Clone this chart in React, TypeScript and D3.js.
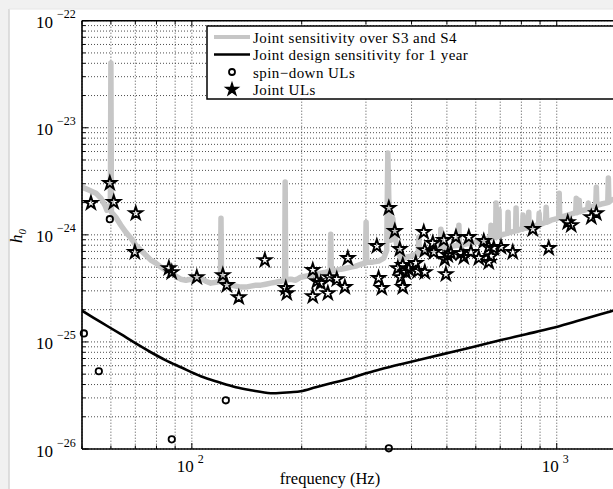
import React from 'react';
import * as d3 from 'd3';

const W = 613;
const H = 489;

// axis ticks
const xMajorTicks = [100, 1000];
const xMajorExp = ['2', '3'];
const yMajorTicks = [1e-26, 1e-25, 1e-24, 1e-23, 1e-22];
const yMajorExp = ['\u221226', '\u221225', '\u221224', '\u221223', '\u221222'];

const legendLabels = [
  'Joint sensitivity over S3 and S4',
  'Joint design sensitivity for 1 year',
  'spin\u2212down ULs',
  'Joint ULs',
];

// Joint sensitivity over S3 and S4 (frequency Hz, h0)
const sensitivity: [number, number][] = [
  [50, 2.79e-24], [52.2, 2.62e-24], [54.6, 2.45e-24], [56.3, 2.2e-24], [57.8, 1.89e-24],
  [58.5, 1.7e-24], [59.3, 1.78e-24], [59.8, 1.89e-24], [60.0, 4.02e-23], [60.2, 1.63e-24],
  [61.9, 1.46e-24], [63.9, 1.23e-24], [65.9, 1.06e-24], [68.1, 9.31e-25], [70.2, 8.01e-25],
  [72.5, 7.19e-25], [74.8, 6.46e-25], [77.2, 5.8e-25], [79.7, 5.44e-25], [82.3, 4.99e-25],
  [84.9, 4.68e-25], [87.6, 4.39e-25], [90.4, 4.11e-25], [93.3, 3.85e-25], [96.3, 3.77e-25],
  [99.4, 3.85e-25], [102.6, 4.02e-25], [105.8, 3.94e-25], [109.2, 3.69e-25], [112.7, 3.54e-25],
  [116.3, 3.61e-25], [119.8, 3.69e-25], [120.2, 1.43e-24], [120.6, 3.69e-25], [124.7, 3.54e-25],
  [127.9, 3.39e-25], [132.0, 3.32e-25], [136.2, 3.25e-25], [140.6, 3.25e-25], [145.1, 3.32e-25],
  [149.7, 3.39e-25], [154.5, 3.39e-25], [159.4, 3.46e-25], [164.5, 3.54e-25], [169.8, 3.61e-25],
  [175.2, 3.69e-25], [179.6, 3.77e-25], [180.2, 3.11e-24], [180.8, 3.77e-25], [186.6, 3.85e-25],
  [192.6, 3.77e-25], [198.8, 4.02e-25], [205.1, 4.11e-25], [211.7, 4.2e-25], [218.5, 4.29e-25],
  [225.5, 4.39e-25], [232.7, 4.48e-25], [239.4, 4.58e-25], [240.2, 1.015e-24], [241.0, 4.58e-25],
  [249.6, 4.68e-25], [256.1, 4.78e-25], [264.3, 4.88e-25], [272.8, 4.99e-25], [281.5, 5.1e-25],
  [290.5, 5.32e-25], [299.0, 5.44e-25], [300.3, 1.31e-24], [301.5, 5.56e-25], [312.8, 5.56e-25],
  [324.9, 5.68e-25], [335.8, 6.06e-25], [342.0, 7.19e-25], [344.4, 5.8e-24], [346.6, 2.11e-24],
  [351.0, 8.92e-25], [355.4, 1.43e-24], [359.9, 9.94e-25], [366.8, 7.19e-25], [373.8, 5.93e-25],
  [386, 6.19e-25], [398, 6.32e-25], [412, 6.6e-25], [417.5, 6.6e-25], [418.7, 9.52e-25],
  [420, 6.74e-25], [437.7, 6.89e-25], [451.8, 7.04e-25], [466.3, 7.35e-25], [480, 7.51e-25],
  [481.3, 1.13e-24], [482.6, 7.51e-25], [512.8, 7.84e-25], [537.8, 8.01e-25], [539.3, 1.23e-24],
  [540.8, 8.01e-25], [563.8, 8.19e-25], [582.0, 8.37e-25], [620.0, 8.73e-25], [640, 9.12e-25],
  [658.5, 9.31e-25], [660.5, 1.23e-24], [662.5, 9.31e-25], [680, 9.52e-25], [681.7, 1.98e-24],
  [683.5, 9.52e-25], [693, 9.72e-25], [694.8, 1.7e-24], [696.5, 9.72e-25], [703.6, 9.94e-25],
  [733.5, 1.04e-24], [735.5, 1.63e-24], [737.5, 1.04e-24], [749.5, 1.06e-24], [771, 1.09e-24],
  [773.6, 1.78e-24], [776, 1.09e-24], [798.5, 1.13e-24], [806, 1.13e-24], [808.6, 1.53e-24],
  [811, 1.15e-24], [836, 1.16e-24], [838, 1.63e-24], [840, 1.16e-24], [878, 1.23e-24],
  [892, 1.24e-24], [894.9, 1.59e-24], [898, 1.25e-24], [906.3, 1.26e-24], [932, 1.31e-24],
  [935.4, 1.815e-24], [939, 1.31e-24], [965.5, 1.37e-24], [1012, 1.43e-24], [1015.6, 2.45e-24],
  [1019, 1.46e-24], [1028.6, 1.46e-24], [1095.8, 1.56e-24], [1127, 1.61e-24], [1131, 2.2e-24],
  [1135, 1.61e-24], [1149, 1.64e-24], [1152.7, 2.11e-24], [1156, 1.64e-24], [1167.4, 1.67e-24],
  [1216, 1.74e-24], [1220.2, 1.98e-24], [1224, 1.75e-24], [1243.7, 1.815e-24], [1279, 1.87e-24],
  [1283.7, 2.79e-24], [1288, 1.88e-24], [1325, 1.94e-24], [1380, 2.0e-24], [1385, 3.39e-24],
  [1390, 2.02e-24], [1411.6, 2.11e-24], [1500, 2.25e-24],
];

// Joint design sensitivity for 1 year
const design: [number, number][] = [
  [50, 1.96e-25], [56.3, 1.53e-25], [63.9, 1.18e-25], [69.3, 9.94e-26], [77.2, 8.01e-26],
  [84.9, 6.73e-26], [93.3, 5.8e-26], [105.8, 4.78e-26], [118.6, 4.2e-26], [132.0, 3.77e-26],
  [145.1, 3.54e-26], [164.5, 3.32e-26], [186.6, 3.39e-26], [198.8, 3.46e-26], [218.5, 3.77e-26],
  [240.4, 4.11e-26], [272.8, 4.58e-26], [299.8, 5.1e-26], [329.3, 5.56e-26], [373.8, 6.19e-26],
  [437.7, 7.04e-26], [512.8, 8.01e-26], [600.7, 9.12e-26], [703.6, 1.04e-25], [824.2, 1.18e-25],
  [965.5, 1.34e-25], [1131, 1.56e-25], [1325, 1.82e-25], [1439, 1.98e-25], [1500, 2.11e-25],
];

// spin-down upper limits
const spindownULs: [number, number][] = [
  [50.6, 1.2e-25], [55.6, 5.32e-26], [59.6, 1.4e-24], [88.1, 1.23e-26], [123.9, 2.85e-26],
  [346.6, 1.015e-26],
];

// joint upper limits
const jointULs: [number, number][] = [
  [52.9, 1.98e-24], [59.6, 3.04e-24], [61.1, 2.02e-24], [70.2, 1.59e-24], [69.8, 6.89e-25],
  [86.5, 4.88e-25], [88.1, 4.48e-25], [103.2, 4.02e-25], [121.6, 4.2e-25], [124.7, 3.39e-25],
  [134.5, 2.61e-25], [158.5, 5.8e-25], [180.9, 3.18e-25], [182.1, 2.85e-25], [214.5, 4.68e-25],
  [214.5, 2.67e-25], [220.0, 3.69e-25], [225.5, 3.54e-25], [235.9, 2.85e-25], [238.6, 4.02e-25],
  [249.6, 3.85e-25], [262.6, 3.25e-25], [267.6, 6.06e-25], [321.3, 7.84e-25], [324.9, 3.94e-25],
  [331.6, 3.18e-25], [346.6, 1.78e-24], [359.9, 1.083e-24], [371.4, 7.35e-25], [366.8, 4.88e-25],
  [373.8, 4.02e-25], [378.5, 3.25e-25], [378.5, 5.21e-25], [385.8, 4.48e-25], [393.1, 4.78e-25],
  [410.9, 5.44e-25], [416.0, 4.58e-25], [432.1, 1.06e-24], [434.9, 4.48e-25], [434.9, 7.19e-25],
  [457.4, 8.37e-25], [460.3, 6.89e-25], [490.2, 8.92e-25], [502.8, 6.46e-25], [493.3, 5.93e-25],
  [496.8, 4.29e-25], [529.3, 9.52e-25], [512.8, 6.74e-25], [546.3, 6.74e-25], [556.3, 6.19e-25],
  [574.2, 9.52e-25], [582.0, 6.89e-25], [611.5, 6.06e-25], [631.0, 8.73e-25], [651.2, 7.68e-25],
  [651.2, 5.56e-25], [660.5, 6.32e-25], [672.1, 7.51e-25], [703.6, 7.68e-25], [757.8, 6.89e-25],
  [859.5, 1.13e-24], [950.8, 7.51e-25], [1071.8, 1.31e-24], [1095.8, 1.23e-24], [1243.7, 1.46e-24],
  [1283.7, 1.59e-24],
];

const SERIF = '"Liberation Serif", "Times New Roman", serif';

export default function App() {
  const left = 82;
  const right = 621;
  const top = 20.7;
  const bottom = 449;

  const x = d3.scaleLog().domain([50, 1500]).range([left, right]);
  const y = d3.scaleLog().domain([1e-26, 1e-22]).range([bottom, top]);

  const xGrid: number[] = [];
  [10, 100, 1000].forEach((d) => {
    for (let m = 1; m <= 9; m++) {
      const v = m * d;
      if (v >= 50 && v <= 1500) xGrid.push(v);
    }
  });
  const yGrid: number[] = [];
  for (let k = -26; k <= -23; k++) {
    for (let m = 1; m <= 9; m++) yGrid.push(m * Math.pow(10, k));
  }
  yGrid.push(1e-22);

  const isMajor = (v: number) => Math.abs(Math.log10(v) - Math.round(Math.log10(v))) < 1e-9;

  const line = d3
    .line<[number, number]>()
    .x((d) => x(d[0]))
    .y((d) => y(d[1]));
  const smooth = d3
    .line<[number, number]>()
    .x((d) => x(d[0]))
    .y((d) => y(d[1]))
    .curve(d3.curveCatmullRom.alpha(0.5));

  const starPath = d3.symbol().type(d3.symbolStar).size(52)() as string;

  const legX = 207;
  const legY = 26;
  const legRows = [37, 54.5, 72, 89.5];

  return (
    <svg
      width={W}
      height={H}
      style={{ position: 'absolute', left: 0, top: 0, display: 'block' }}
      fontFamily={SERIF}
    >
      <defs>
        <clipPath id="plotClip">
          <rect x={left} y={top} width={right - left} height={bottom - top} />
        </clipPath>
      </defs>
      <rect x={0} y={0} width={W} height={H} fill="#f1f1f1" />
      <rect x={9} y={9} width={W - 9} height={H - 9} fill="#ffffff" />
      <line x1={9} x2={9} y1={9} y2={H} stroke="#d4d4d4" strokeWidth={1.5} />
      <line x1={9} x2={W} y1={9} y2={9} stroke="#e6e6e6" strokeWidth={1} />

      {/* grid */}
      <g stroke="#3a3a3a" strokeWidth={0.9} strokeDasharray="1 2" fill="none">
        {xGrid.map((v, i) => (
          <line key={'gx' + i} x1={x(v)} x2={x(v)} y1={top} y2={bottom} />
        ))}
        {yGrid.map((v, i) => (
          <line key={'gy' + i} x1={left} x2={right} y1={y(v)} y2={y(v)} />
        ))}
      </g>

      <g clipPath="url(#plotClip)">
        <path
          d={line(sensitivity) as string}
          fill="none"
          stroke="#c6c6c6"
          strokeWidth={5.5}
          strokeLinejoin="round"
        />
        <path d={smooth(design) as string} fill="none" stroke="#000" strokeWidth={2.6} />
      </g>

      {/* axes box */}
      <g stroke="#000" strokeWidth={1.6} fill="none">
        <line x1={left} x2={left} y1={top} y2={bottom} />
        <line x1={left} x2={right} y1={bottom} y2={bottom} />
        <line x1={left} x2={right} y1={top} y2={top} />
      </g>

      {/* markers (not clipped, as in the reference) */}
      <g>
        {spindownULs.map((d, i) => (
          <circle
            key={'c' + i}
            cx={x(d[0])}
            cy={y(d[1])}
            r={3.2}
            fill="none"
            stroke="#000"
            strokeWidth={1.8}
          />
        ))}
        {jointULs.map((d, i) => (
          <path
            key={'s' + i}
            d={starPath}
            transform={`translate(${x(d[0])},${y(d[1])})`}
            fill="none"
            stroke="#000"
            strokeWidth={1.9}
            strokeLinejoin="miter"
          />
        ))}
      </g>

      {/* ticks */}
      <g stroke="#000" strokeWidth={1}>
        {xGrid.map((v, i) => {
          const len = isMajor(v) ? 6 : 3.5;
          return (
            <g key={'tx' + i}>
              <line x1={x(v)} x2={x(v)} y1={bottom} y2={bottom - len} />
              <line x1={x(v)} x2={x(v)} y1={top} y2={top + len} />
            </g>
          );
        })}
        {yGrid.map((v, i) => {
          const len = isMajor(v) ? 6 : 3.5;
          return <line key={'ty' + i} x1={left} x2={left + len} y1={y(v)} y2={y(v)} />;
        })}
      </g>

      {/* tick labels */}
      <g fill="#000">
        {yMajorTicks.map((v, i) => (
          <g key={'yl' + i}>
            <text x={53} y={y(v) + 7.5} fontSize={17} textAnchor="end">
              10
            </text>
            <text x={57} y={y(v) - 2.5} fontSize={12}>
              {yMajorExp[i]}
            </text>
          </g>
        ))}
        {xMajorTicks.map((v, i) => (
          <g key={'xl' + i}>
            <text x={x(v) + 2} y={472} fontSize={17} textAnchor="end">
              10
            </text>
            <text x={x(v) + 6} y={463} fontSize={12}>
              {xMajorExp[i]}
            </text>
          </g>
        ))}
        <text x={330} y={484} fontSize={16.5} textAnchor="middle">
          frequency (Hz)
        </text>
        <text
          transform="translate(22,236) rotate(-90)"
          fontSize={17}
          fontStyle="italic"
          textAnchor="middle"
        >
          h
          <tspan fontSize={11} dy={4}>
            0
          </tspan>
        </text>
      </g>

      {/* legend */}
      <g>
        <rect
          x={legX}
          y={legY}
          width={440}
          height={73}
          fill="#fff"
          stroke="#000"
          strokeWidth={1.5}
        />
        <line x1={214} x2={250} y1={legRows[0]} y2={legRows[0]} stroke="#c6c6c6" strokeWidth={4} />
        <line x1={214} x2={250} y1={legRows[1]} y2={legRows[1]} stroke="#000" strokeWidth={2.6} />
        <circle cx={232} cy={legRows[2]} r={3} fill="none" stroke="#000" strokeWidth={1.8} />
        <path
          d={starPath}
          transform={`translate(232,${legRows[3]})`}
          fill="#000"
          stroke="#000"
          strokeWidth={1.2}
        />
        {legendLabels.map((t, i) => (
          <text
            key={'lg' + i}
            x={253}
            y={legRows[i] + 5.5}
            fontSize={15}
            letterSpacing={0.45}
            fill="#000"
          >
            {t}
          </text>
        ))}
      </g>
    </svg>
  );
}
